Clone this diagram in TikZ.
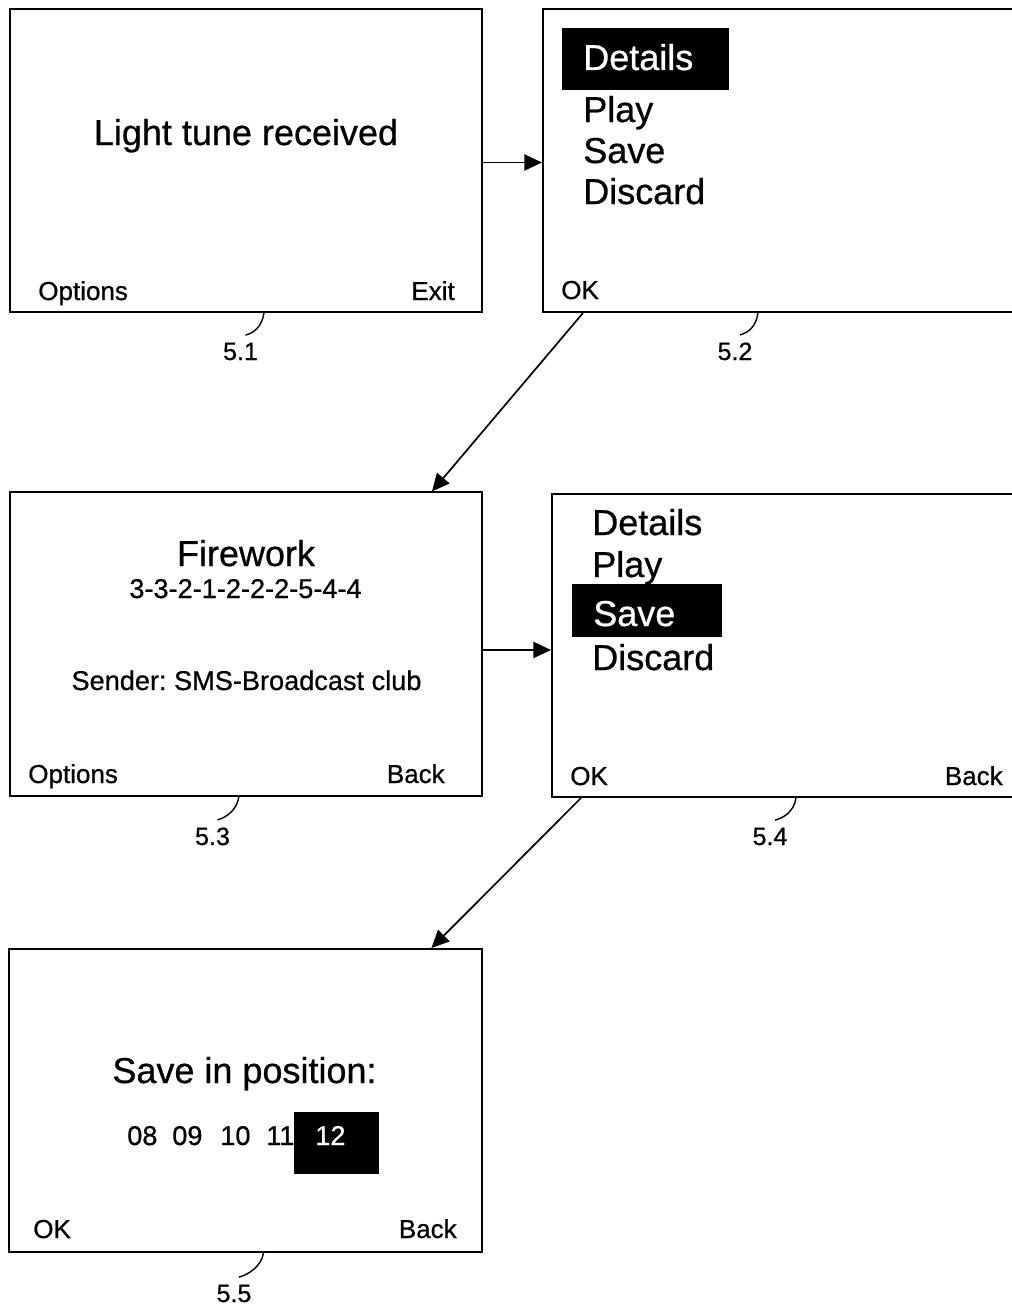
\documentclass[tikz,border=0pt]{standalone}
\usepackage{fontspec}
\setmainfont{Liberation Sans}[UprightFeatures={FakeBold=0.7}]
\usetikzlibrary{arrows.meta}
\frenchspacing

\begin{document}
\begin{tikzpicture}[
    x=0.025cm, y=-0.025cm,
    screen/.style={draw, line width=1.4pt, minimum width=11.8cm,
                   minimum height=7.575cm, inner sep=0pt},
    hilite/.style={fill=black, inner sep=0pt, anchor=north west},
    title/.style={font=\fontsize{25.6pt}{30pt}\selectfont, anchor=base, inner sep=0pt},
    menu/.style={font=\fontsize{25.6pt}{30pt}\selectfont, anchor=base west, inner sep=0pt},
    info/.style={font=\fontsize{19.3pt}{23pt}\selectfont, anchor=base, inner sep=0pt},
    softkey/.style={font=\fontsize{18.5pt}{22pt}\selectfont, inner sep=0pt},
    ref/.style={font=\fontsize{17.8pt}{21pt}\selectfont, anchor=base, inner sep=1pt},
    arr/.style={-{Triangle[length=12.5pt, width=11.5pt]}, line width=1.2pt},
    lead/.style={line width=1pt}
  ]
    \useasboundingbox (0,0) rectangle (1012,1308);

    % screens
    \node[screen] (s1) at (246,160.5) {};
    \node[screen, minimum width=12.2cm] (s2) at (787,160.5) {};
    \node[screen] (s3) at (246,644) {};
    \node[screen, minimum width=11.95cm] (s4) at (791,645.5) {};
    \node[screen] (s5) at (245.5,1100.5) {};

    % 5.1
    \node[title] (t1) at (246,145) {Light tune received};
    \node[softkey, anchor=base west] (k1a) at (38,300) {Options};
    \node[softkey, anchor=base east] (k1b) at (455,300) {Exit};

    % 5.2
    \node[hilite, minimum width=4.175cm, minimum height=1.55cm] (sel2) at (562,28) {};
    \node[menu, text=white] (m2a) at (583,70) {Details};
    \node[menu] (m2b) at (583,122) {Play};
    \node[menu] (m2c) at (583,163) {Save};
    \node[menu] (m2d) at (583,204) {Discard};
    \node[softkey, anchor=base west] (k2a) at (561,299) {OK};

    % 5.3
    \node[title] (t3) at (246,566) {Firework};
    \node[info] (tune) at (245.5,598) {3-3-2-1-2-2-2-5-4-4};
    \node[info] (sender) at (246.5,690) {Sender: SMS-Broadcast club};
    \node[softkey, anchor=base west] (k3a) at (28,783) {Options};
    \node[softkey, anchor=base east] (k3b) at (445,783) {Back};

    % 5.4
    \node[menu] (m4a) at (592,535) {Details};
    \node[hilite, minimum width=3.75cm, minimum height=1.325cm] (sel4) at (572,584) {};
    \node[menu] (m4b) at (592,577) {Play};
    \node[menu, text=white] (m4c) at (593,626) {Save};
    \node[menu] (m4d) at (592,670) {Discard};
    \node[softkey, anchor=base west] (k4a) at (570,785) {OK};
    \node[softkey, anchor=base east] (k4b) at (1003,785) {Back};

    % 5.5
    \node[title] (t5) at (244.5,1083) {Save in position:};
    \foreach \n/\x in {08/127, 09/172, 10/220, 11/266}
      \node[info, anchor=base west] (p\n) at (\x,1145) {\n};
    \node[hilite, minimum width=2.125cm, minimum height=1.55cm] (sel5) at (294,1112) {};
    \node[info, anchor=base west, text=white] (p12) at (315,1145) {12};
    \node[softkey, anchor=base west] (k5a) at (33,1238) {OK};
    \node[softkey, anchor=base east] (k5b) at (457,1238) {Back};

    % reference numerals
    \node[ref] (r1) at (240.5,360) {5.1};
    \node[ref] (r2) at (735,360) {5.2};
    \node[ref] (r3) at (212.5,845) {5.3};
    \node[ref] (r4) at (770,845) {5.4};
    \node[ref] (r5) at (234,1302) {5.5};

    \draw[lead] ([shift={(255,0)}]s1.south west) .. controls +(-2,14) and +(8,-2) .. ([shift={(5,-6)}]r1.north);
    \draw[lead] ([shift={(216,0)}]s2.south west) .. controls +(-2,14) and +(8,-2) .. ([shift={(5,-6)}]r2.north);
    \draw[lead] ([shift={(230,0)}]s3.south west) .. controls +(-2,14) and +(8,-2) .. ([shift={(5,-6)}]r3.north);
    \draw[lead] ([shift={(245,0)}]s4.south west) .. controls +(-2,14) and +(8,-2) .. ([shift={(5,-6)}]r4.north);
    \draw[lead] ([shift={(255,0)}]s5.south west) .. controls +(-2,14) and +(8,-2) .. ([shift={(5,-6)}]r5.north);

    % transitions
    \draw[arr] ([shift={(0,2)}]s1.east) -- ([shift={(0,2)}]s2.west);
    \draw[arr] ([shift={(41,0)}]s2.south west) -- ([shift={(423,0)}]s3.north west);
    \draw[arr] ([shift={(0,6)}]s3.east) -- ([shift={(0,4.5)}]s4.west);
    \draw[arr] ([shift={(30,0)}]s4.south west) -- ([shift={(423,0)}]s5.north west);
  \end{tikzpicture}
\end{document}
